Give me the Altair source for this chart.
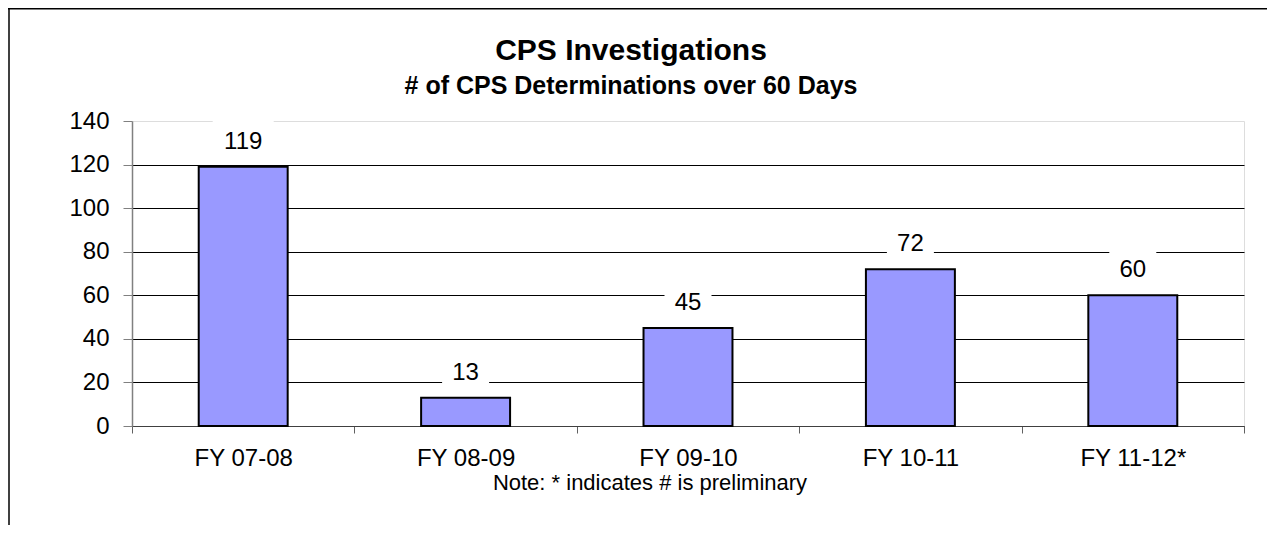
import altair as alt
import pandas as pd

categories = ["FY 07-08", "FY 08-09", "FY 09-10", "FY 10-11", "FY 11-12*"]
values = [119, 13, 45, 72, 60]
y_ticks = [0, 20, 40, 60, 80, 100, 120, 140]
title_text = "CPS Investigations"
subtitle_text = "# of CPS Determinations over 60 Days"
note_text = "Note: * indicates # is preliminary"

FONT = "Liberation Sans"

df = pd.DataFrame({"category": categories, "value": values})
df["label"] = df["value"].astype(str)
df["nchar"] = df["label"].str.len()

x_enc = alt.X(
    "category:N",
    sort=categories,
    scale=alt.Scale(paddingInner=0, paddingOuter=0),
    axis=alt.Axis(
        title=None, labelAngle=0, labelFontSize=24, labelFont=FONT,
        labelColor="black", tickBand="extent", tickSize=7,
        tickColor="#606060", domainColor="#404040", grid=False,
        labelPadding=13,
    ),
)
y_enc = alt.Y(
    "value:Q",
    scale=alt.Scale(domain=[0, 140], nice=False),
    axis=alt.Axis(
        title=None, values=y_ticks, labelFontSize=24, labelFont=FONT,
        labelColor="black", tickColor="#808080", tickSize=9,
        labelPadding=14, domainColor="#808080", domainWidth=1.5,
        gridColor="black", gridWidth=1,
        gridOpacity={"condition": {"test": "datum.value >= 140", "value": 0}, "value": 1},
    ),
)

base = alt.Chart(df)

bars = base.mark_bar(
    width={"band": 0.4}, color="#9999FF", stroke="black", strokeWidth=2
).encode(x=x_enc, y=y_enc)

box3 = base.transform_filter("datum.nchar >= 3").mark_bar(
    width=61, color="white", yOffset=-48, y2Offset=-10
).encode(x=x_enc, y=y_enc, y2="value:Q")

box2 = base.transform_filter("datum.nchar < 3").mark_bar(
    width=47, color="white", yOffset=-48, y2Offset=-10
).encode(x=x_enc, y=y_enc, y2="value:Q")

labels = base.mark_text(
    dy=-18, baseline="alphabetic", fontSize=24, font=FONT, color="black"
).encode(x=x_enc, y=y_enc, text="label:N")

text_df = pd.DataFrame({"title": [title_text], "subtitle": [subtitle_text], "note": [note_text]})

title = alt.Chart(text_df).mark_text(
    fontSize=30, fontWeight="bold", font=FONT, color="black", baseline="alphabetic", align="center"
).encode(x=alt.value(499), y=alt.value(-61), text="title:N")

subtitle = alt.Chart(text_df).mark_text(
    fontSize=25, fontWeight="bold", font=FONT, color="black", baseline="alphabetic", align="center"
).encode(x=alt.value(499), y=alt.value(-27), text="subtitle:N")

note = alt.Chart(text_df).mark_text(
    fontSize=22, font=FONT, color="black", baseline="alphabetic", align="center"
).encode(x=alt.value(518), y=alt.value(369), text="note:N")

border_top = alt.Chart(text_df).mark_rule(color="black", strokeWidth=2).encode(
    x=alt.value(-124), x2=alt.value(2000), y=alt.value(-112.5)
)
border_left = alt.Chart(text_df).mark_rule(color="black", strokeWidth=1.5).encode(
    x=alt.value(-123), y=alt.value(-113), y2=alt.value(600)
)

chart = alt.layer(
    bars, box3, box2, labels, title, subtitle, note, border_top, border_left
).properties(
    width=1112,
    height=305,
    autosize=alt.AutoSizeParams(type="none"),
    padding={"left": 124, "top": 113, "right": 23, "bottom": 99},
).configure_view(stroke="#808080", strokeWidth=2).configure(background="white")

chart.save("out.html", embed_options={"renderer": "svg", "actions": False})
